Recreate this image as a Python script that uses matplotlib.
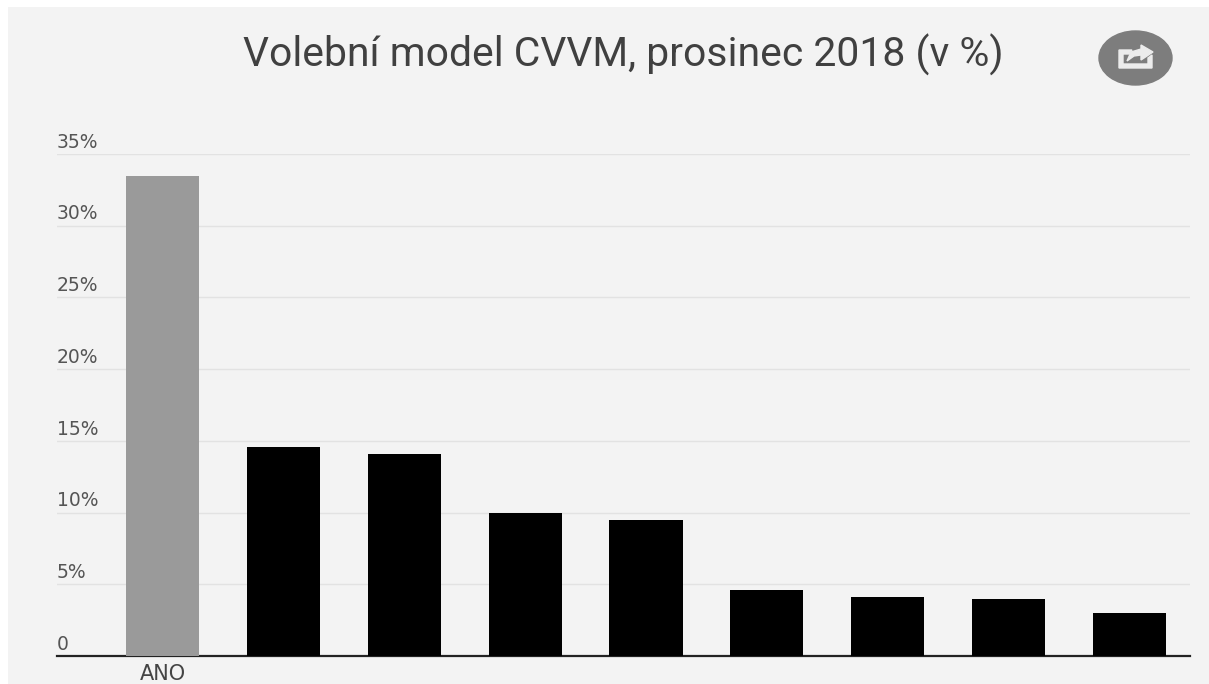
import matplotlib
matplotlib.use('Agg')
import matplotlib.pyplot as plt
from matplotlib.patches import Ellipse, Polygon, Rectangle

# hodnoty
labels = ['ANO', '', '', '', '', '', '', '', '']
values = [33.5, 14.6, 14.1, 10.0, 9.5, 4.6, 4.1, 4.0, 3.0]
colors = ['#9a9a9a'] + ['#000000'] * 8
ticks = [0, 5, 10, 15, 20, 25, 30, 35]
tick_labels = ['0', '5%', '10%', '15%', '20%', '25%', '30%', '35%']

plt.rcParams['font.family'] = ['Roboto', 'DejaVu Sans']
W, H = 1209, 684
fig = plt.figure(figsize=(W / 100, H / 100), dpi=100, facecolor='#ffffff')

# sedy podklad s bilym okrajem vlevo a nahore
fig.patches.append(Rectangle((8 / W, 0), 1 - 8 / W, 1 - 7 / H, transform=fig.transFigure,
                             facecolor='#f3f3f3', edgecolor='none', zorder=-5))

# plocha grafu: x 57..1190 px, y=0 na 656 px, y=35 na 154 px
ax = fig.add_axes([57 / W, 1 - 656 / H, (1190 - 57) / W, (656 - 154) / H], facecolor='none')
ax.bar(range(len(values)), values, width=0.605, color=colors, zorder=3)
ax.set_xlim(-0.872, 8.5)
ax.set_ylim(0, 35)

ax.set_yticks(ticks)
ax.set_yticklabels([])
ax.set_xticks(range(len(labels)))
ax.set_xticklabels(labels, fontsize=15, color='#444444', family='DejaVu Sans')
ax.tick_params(axis='both', length=0)
ax.tick_params(axis='x', pad=5.5)
ax.grid(axis='y', color='#e2e2e2', lw=1, zorder=0)
ax.set_axisbelow(True)
for s in ['top', 'right', 'left']:
    ax.spines[s].set_visible(False)
ax.spines['bottom'].set_color('#222222')
ax.spines['bottom'].set_linewidth(1.6)

# popisky osy y jsou v originale zarovnane vlevo nad mrizkou
for t, lab in zip(ticks, tick_labels):
    ax.annotate(lab, xy=(0, t), xycoords=ax.get_yaxis_transform(), xytext=(0, 8.5),
                textcoords='offset points', fontsize=13.5, color='#555555',
                va='center', ha='left', family='DejaVu Sans')

fig.text(623 / W, 1 - 55 / H, 'Volební model CVVM, prosinec 2018 (v %)',
         fontsize=29.4, color='#404040', ha='center', va='center')

# tlacitko sdileni
ov = fig.add_axes([0, 0, 1, 1], facecolor='none')
ov.set_xlim(0, W)
ov.set_ylim(H, 0)
ov.axis('off')
ov.add_patch(Ellipse((1135.5, 58), 73, 54, color='#7d7d7d'))
ov.add_patch(Polygon([(1119, 50), (1132, 50), (1129, 54), (1123, 54), (1123, 64),
                      (1148, 64), (1148, 58), (1152, 55), (1152, 68), (1119, 68)],
                     color='#ececec'))
ov.add_patch(Polygon([(1127, 61), (1131, 52), (1141, 49), (1141, 45), (1153, 52),
                      (1141, 60), (1141, 55), (1134, 56)], color='#ececec'))

fig.savefig('out.png', dpi=100)
